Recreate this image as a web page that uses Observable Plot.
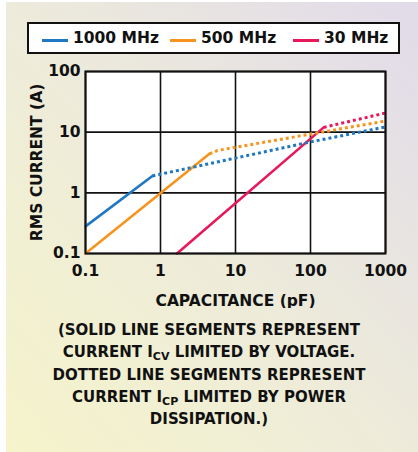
<!DOCTYPE html>
<html>
<head>
<meta charset="utf-8">
<script src="https://cdn.jsdelivr.net/npm/d3@7"></script>
<script src="https://cdn.jsdelivr.net/npm/@observablehq/plot@0.6"></script>
<style>
  html, body { margin: 0; padding: 0; background: white; }
  #wrap { position: relative; width: 418px; height: 452px; overflow: hidden; font-family: "DejaVu Sans", sans-serif; font-weight: bold; color: #111; }
  #bg { position: absolute; left: 6px; top: 2px; right: 0; bottom: 0;
        background: linear-gradient(to top right, #f5f4cb 0%, #eeecd9 45%, #e1dbea 100%); }
  #legend { position: absolute; left: 27px; top: 22px; width: 369px; height: 28px; border: 2px solid #111; background: white; }
  .li { position: absolute; top: 0; height: 28px; line-height: 29px; font-size: 15.5px; white-space: nowrap; }
  .sw { position: absolute; top: 15px; width: 26px; height: 3px; }
  #chart { position: absolute; left: 0; top: 58px; }
  #caption { position: absolute; left: 0; width: 418px; top: 319px; text-align: center; font-size: 15px; line-height: 22.3px; }
  #caption sub { font-size: 11px; vertical-align: -3px; line-height: 0; }
</style>
</head>
<body>
<div id="wrap">
  <div id="bg"></div>
  <div id="legend"></div>
  <div id="chart"></div>
  <div id="caption">(SOLID LINE SEGMENTS REPRESENT<br>CURRENT I<sub>CV</sub> LIMITED BY VOLTAGE.<br>DOTTED LINE SEGMENTS REPRESENT<br>CURRENT I<sub>CP</sub> LIMITED BY POWER<br>DISSIPATION.)</div>
</div>
<script>
// Series names and colours
const seriesNames = ["1000 MHz", "500 MHz", "30 MHz"];
const seriesColors = ["#1f78c1", "#f7941d", "#e8185a"];

// Axis ticks
const xTicks = [0.1, 1, 10, 100, 1000];
const yTicks = [0.1, 1, 10, 100];

// 1000 MHz
const solidCap1000 = [0.1, 0.78];
const solidCur1000 = [0.28, 1.9];
const dotCap1000 = [0.78, 100, 1000];
const dotCur1000 = [1.9, 6.9, 12.2];

// 500 MHz
const solidCap500 = [0.1, 4.5];
const solidCur500 = [0.1, 4.4];
const dotCap500 = [4.5, 5.8, 100, 1000];
const dotCur500 = [4.4, 5.0, 9.3, 15.3];

// 30 MHz
const solidCap30 = [1.66, 150];
const solidCur30 = [0.1, 12];
const dotCap30 = [150, 1000];
const dotCur30 = [12, 20.7];

function rows(series, kind, caps, curs) {
  return caps.map((c, i) => ({series, kind, cap: c, cur: curs[i]}));
}
const solid = [
  ...rows("1000 MHz", "solid", solidCap1000, solidCur1000),
  ...rows("500 MHz", "solid", solidCap500, solidCur500),
  ...rows("30 MHz", "solid", solidCap30, solidCur30)
];
const dotted = [
  ...rows("1000 MHz", "dot", dotCap1000, dotCur1000),
  ...rows("500 MHz", "dot", dotCap500, dotCur500),
  ...rows("30 MHz", "dot", dotCap30, dotCur30)
];

// Legend
const legend = document.getElementById("legend");
const legendX = [13, 141, 264];
seriesNames.forEach((name, i) => {
  const sw = document.createElement("div");
  sw.className = "sw";
  sw.style.left = legendX[i] + "px";
  sw.style.background = seriesColors[i];
  legend.appendChild(sw);
  const t = document.createElement("div");
  t.className = "li";
  t.style.left = (legendX[i] + 31) + "px";
  t.textContent = name;
  legend.appendChild(t);
});

const fmt = d => String(d);
const chart = Plot.plot({
  width: 418,
  height: 250,
  marginTop: 13,
  marginBottom: 55,
  marginLeft: 85,
  marginRight: 33,
  style: {background: "transparent", fontFamily: "'DejaVu Sans', sans-serif", fontWeight: "bold", color: "#111"},
  x: {type: "log", domain: [0.1, 1000]},
  y: {type: "log", domain: [0.1, 100]},
  color: {domain: seriesNames, range: seriesColors},
  marks: [
    Plot.frame({fill: "white"}),
    Plot.gridX(xTicks, {stroke: "#111", strokeOpacity: 1, strokeWidth: 1.6}),
    Plot.gridY(yTicks, {stroke: "#111", strokeOpacity: 1, strokeWidth: 1.6}),
    Plot.line(solid, {x: "cap", y: "cur", z: "series", stroke: "series", strokeWidth: 2.6}),
    Plot.line(dotted, {x: "cap", y: "cur", z: "series", stroke: "series", strokeWidth: 3, strokeDasharray: "3,3", strokeLinecap: "butt"}),
    Plot.frame({stroke: "#111", strokeWidth: 2}),
    Plot.axisX(xTicks, {tickFormat: fmt, tickSize: 0, tickPadding: 11, fontSize: 15.5,
      label: "CAPACITANCE (pF)", labelAnchor: "center", labelArrow: "none", labelOffset: 52}),
    Plot.axisY(yTicks, {tickFormat: fmt, tickSize: 0, tickPadding: 5, fontSize: 15.5,
      label: "RMS CURRENT (A)", labelAnchor: "center", labelArrow: "none", labelOffset: 55})
  ]
});
document.getElementById("chart").appendChild(chart);
</script>
</body>
</html>
